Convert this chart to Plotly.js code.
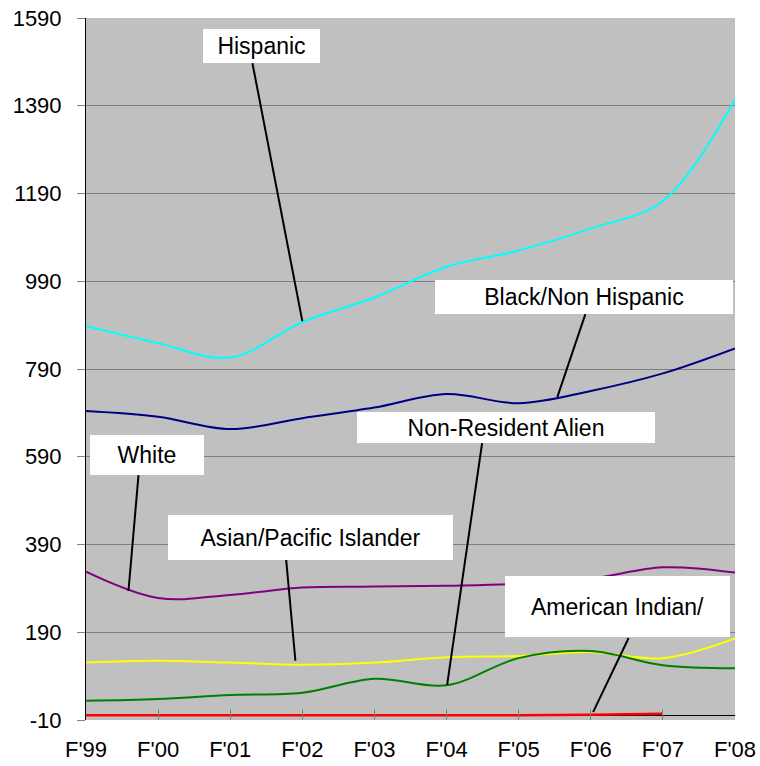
<!DOCTYPE html>
<html>
<head>
<meta charset="utf-8">
<script src="https://cdn.plot.ly/plotly-3.0.1.min.js"></script>
<style>
html,body{margin:0;padding:0;background:#fff;}
#chart{width:760px;height:766px;}
</style>
</head>
<body>
<div id="chart"></div>
<script>
var categories = ["F'99","F'00","F'01","F'02","F'03","F'04","F'05","F'06","F'07","F'08"];
var hispanic = [888, 849, 816, 897, 953, 1023, 1060, 1110, 1173, 1405];
var blackNonHispanic = [694, 681, 653, 678, 702, 733, 712, 740, 780, 837];
var white = [328, 268, 275, 292, 294, 296, 300, 312, 338, 326];
var asianPacific = [121, 125, 121, 116, 121, 133, 136, 145, 131, 176];
var nonResidentAlien = [34, 38, 47, 52, 84, 69, 131, 147, 115, 108];
var americanIndian = [1, 1, 1, 1, 1, 1, 1, 2, 4, null];
var yTickValues = [-10, 190, 390, 590, 790, 990, 1190, 1390, 1590];
var yTickLabels = ["-10", "190", "390", "590", "790", "990", "1190", "1390", "1590"];

var FONT = 'Arial, "Liberation Sans", sans-serif';

function series(name, vals, color, w) {
  return {
    type: 'scatter', mode: 'lines', name: name,
    x: categories, y: vals,
    line: {color: color, width: w || 2, shape: 'spline', smoothing: 1},
    connectgaps: false, hoverinfo: 'x+y+name'
  };
}

var data = [
  series('Hispanic', hispanic, '#00FFFF'),
  series('Black/Non Hispanic', blackNonHispanic, '#000080'),
  series('White', white, '#800080'),
  series('Asian/Pacific Islander', asianPacific, '#FFFF00'),
  series('Non-Resident Alien', nonResidentAlien, '#008000'),
  series('American Indian/', americanIndian, '#FF0000', 2.5)
];

// label boxes (centre in data units, size in px)
var labels = [
  {text: 'Hispanic', x: 2.44, y: 1526, w: 117, h: 34},
  {text: 'Black/Non Hispanic', x: 6.91, y: 954, w: 298, h: 34},
  {text: 'White', x: 0.84, y: 594, w: 114, h: 40},
  {text: 'Asian/Pacific Islander', x: 3.12, y: 406, w: 285, h: 45},
  {text: 'Non-Resident Alien', x: 5.83, y: 657, w: 298, h: 31},
  {text: 'American Indian/', x: 7.376, y: 249, w: 225, h: 61}
];
// leader lines
var leaders = [
  [2.308, 1487, 3.0, 899],
  [6.925, 915, 6.536, 726],
  [0.728, 548, 0.589, 284],
  [2.776, 355, 2.904, 125],
  [5.493, 621, 5.008, 70],
  [7.525, 177, 7.032, 8]
];

var annotations = labels.map(function(l){
  return {
    xref: 'x', yref: 'y', x: l.x, y: l.y, text: l.text,
    showarrow: false, xanchor: 'center', yanchor: 'middle',
    width: l.w, height: l.h, bgcolor: '#FFFFFF', borderpad: 0, borderwidth: 0,
    font: {family: FONT, size: 23, color: '#000000'}
  };
});
var shapes = leaders.map(function(s){
  return {type: 'line', xref: 'x', yref: 'y', x0: s[0], y0: s[1], x1: s[2], y1: s[3],
          line: {color: '#000000', width: 2}, layer: 'above'};
});

var layout = {
  width: 760, height: 766,
  margin: {l: 86, r: 25, t: 18, b: 46},
  paper_bgcolor: '#FFFFFF', plot_bgcolor: '#C0C0C0',
  showlegend: false,
  font: {family: FONT, size: 22, color: '#000000'},
  xaxis: {
    type: 'category', categoryorder: 'array', categoryarray: categories,
    range: [0, 9], showgrid: false, zeroline: false, showline: false,
    ticks: 'inside', ticklen: 11, tickwidth: 1, tickcolor: '#808080',
    tickfont: {family: FONT, size: 22, color: '#000000'},
    ticklabelstandoff: 14, fixedrange: true
  },
  yaxis: {
    range: [yTickValues[0], yTickValues[yTickValues.length - 1]],
    tickmode: 'array', tickvals: yTickValues, ticktext: yTickLabels,
    showgrid: true, gridcolor: '#808080', gridwidth: 1,
    showline: true, linecolor: '#000000', linewidth: 1,
    ticks: 'outside', ticklen: 8, tickwidth: 1, tickcolor: '#808080',
    zeroline: true, zerolinecolor: '#000000', zerolinewidth: 1,
    tickfont: {family: FONT, size: 22, color: '#000000'},
    ticklabelstandoff: 11, fixedrange: true
  },
  annotations: annotations,
  shapes: shapes
};

Plotly.newPlot('chart', data, layout, {displayModeBar: false, staticPlot: true});
</script>
</body>
</html>
